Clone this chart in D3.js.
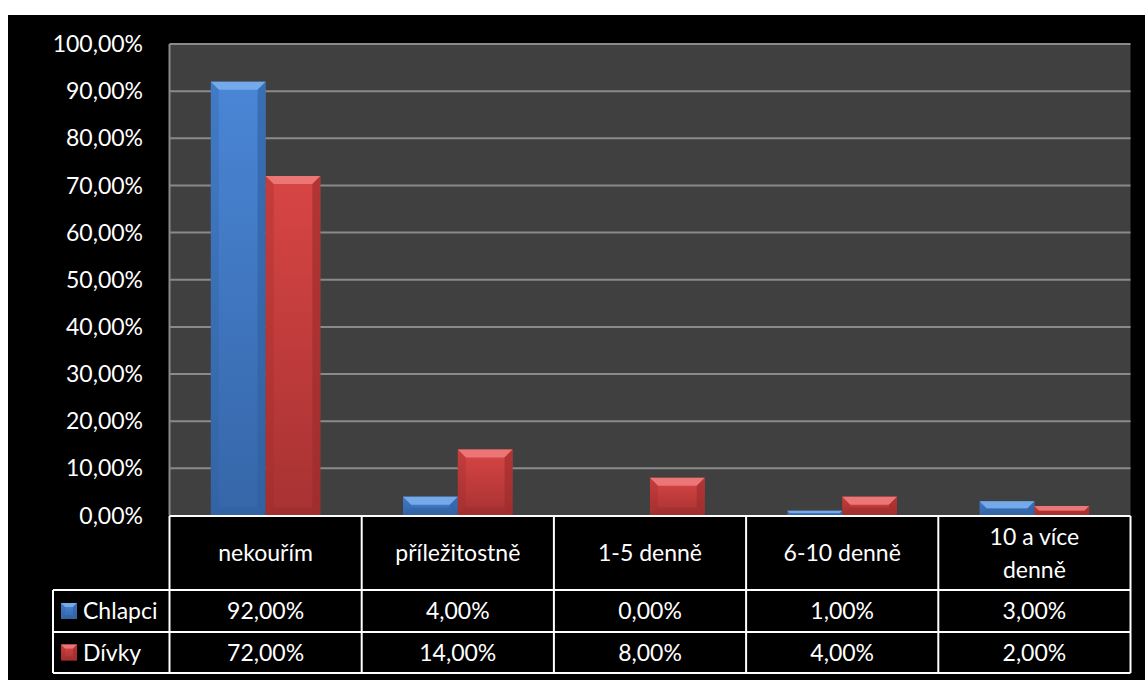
<!DOCTYPE html>
<meta charset="utf-8">
<style>
body { margin: 0; background: #fff; }
text { font-family: Lato, "Open Sans", sans-serif; fill: #fff; }
</style>
<body>
<script src="https://d3js.org/d3.v7.min.js"></script>
<script>

var width = 1145,
    height = 680;

// data
var categories = ["nekouřím", "příležitostně", "1-5 denně", "6-10 denně", "10 a více denně"];
var catLines = [["nekouřím"], ["příležitostně"], ["1-5 denně"], ["6-10 denně"], ["10 a více", "denně"]];
var seriesNames = ["Chlapci", "Dívky"];
var chlapci = [0.92, 0.04, 0.00, 0.01, 0.03];
var divky = [0.72, 0.14, 0.08, 0.04, 0.02];
var yTicks = [0, 0.1, 0.2, 0.3, 0.4, 0.5, 0.6, 0.7, 0.8, 0.9, 1.0];

var series = [chlapci, divky];
var pal = [
  {top: "#4a86d6", bot: "#3566a8", hi: "#74aaea", side: "#2f5f9f"},
  {top: "#d84545", bot: "#a83232", hi: "#ec7676", side: "#9a2c2c"}
];

var cz = d3.formatLocale({decimal: ",", thousands: " ", grouping: [3], currency: ["", " Kč"]});
var pct = cz.format(".2%");

var svg = d3.select("body").append("svg")
    .attr("width", width)
    .attr("height", height);

// black chart area
svg.append("rect")
    .attr("x", 8).attr("y", 15)
    .attr("width", width - 8).attr("height", height - 15)
    .attr("fill", "#000");

var plot = {left: 169.5, right: 1130.5, top: 44, bottom: 515.5};

var x = d3.scaleBand()
    .domain(categories)
    .range([plot.left, plot.right])
    .paddingInner(0.43)
    .paddingOuter(0.215);

var xs = d3.scaleBand()
    .domain(seriesNames)
    .range([0, x.bandwidth()]);

var y = d3.scaleLinear()
    .domain([0, 1])
    .range([plot.bottom, plot.top]);

svg.append("rect")
    .attr("x", plot.left).attr("y", plot.top)
    .attr("width", plot.right - plot.left).attr("height", plot.bottom - plot.top)
    .attr("fill", "#404040");

// gridlines
svg.append("g").selectAll("line")
    .data(yTicks.filter(function(d) { return d > 0; }))
    .enter().append("line")
    .attr("x1", plot.left).attr("x2", plot.right)
    .attr("y1", function(d) { return y(d); })
    .attr("y2", function(d) { return y(d); })
    .attr("stroke", "#8a8a8a")
    .attr("stroke-width", 2);

svg.append("line")
    .attr("x1", plot.left).attr("x2", plot.left)
    .attr("y1", plot.top).attr("y2", plot.bottom)
    .attr("stroke", "#8a8a8a").attr("stroke-width", 2);

// y axis labels
svg.append("g").selectAll("text")
    .data(yTicks)
    .enter().append("text")
    .attr("x", 143)
    .attr("y", function(d) { return y(d); })
    .attr("dy", "0.35em")
    .attr("text-anchor", "end")
    .style("font-size", "23px")
    .text(function(d) { return pct(d); });

// gradients
var defs = svg.append("defs");
pal.forEach(function(p, i) {
  var g = defs.append("linearGradient")
      .attr("id", "grad" + i)
      .attr("x1", 0).attr("y1", 0).attr("x2", 0).attr("y2", 1);
  g.append("stop").attr("offset", "0%").attr("stop-color", p.top);
  g.append("stop").attr("offset", "100%").attr("stop-color", p.bot);
});

function bevelBar(g, bx, by, bw, bh, p, i) {
  if (bh <= 0) return;
  var b = Math.min(8, bh / 2, bw / 4);
  g.append("rect")
      .attr("x", bx).attr("y", by).attr("width", bw).attr("height", bh)
      .attr("fill", "url(#grad" + i + ")");
  // top bevel
  g.append("path")
      .attr("d", "M" + bx + "," + by + "L" + (bx + bw) + "," + by +
                 "L" + (bx + bw - b) + "," + (by + b) + "L" + (bx + b) + "," + (by + b) + "Z")
      .attr("fill", p.hi);
  // left bevel
  g.append("path")
      .attr("d", "M" + bx + "," + by + "L" + (bx + b) + "," + (by + b) +
                 "L" + (bx + b) + "," + (by + bh - b) + "L" + bx + "," + (by + bh) + "Z")
      .attr("fill", p.side).attr("opacity", 0.3);
  // right bevel
  g.append("path")
      .attr("d", "M" + (bx + bw) + "," + by + "L" + (bx + bw - b) + "," + (by + b) +
                 "L" + (bx + bw - b) + "," + (by + bh - b) + "L" + (bx + bw) + "," + (by + bh) + "Z")
      .attr("fill", p.side).attr("opacity", 0.6);
  // bottom bevel
  g.append("path")
      .attr("d", "M" + bx + "," + (by + bh) + "L" + (bx + b) + "," + (by + bh - b) +
                 "L" + (bx + bw - b) + "," + (by + bh - b) + "L" + (bx + bw) + "," + (by + bh) + "Z")
      .attr("fill", p.side).attr("opacity", 0.5);
}

var bars = svg.append("g");
series.forEach(function(vals, i) {
  vals.forEach(function(v, j) {
    var bx = x(categories[j]) + xs(seriesNames[i]);
    bevelBar(bars, bx, y(v), xs.bandwidth(), y(0) - y(v), pal[i], i);
  });
});

// data table
var rowY = [516, 590, 632, 673];
var legLeft = 53;
var tbl = svg.append("g");
var colEdges = categories.map(function(c) { return x(c) - x.step() * x.paddingInner() / 2; });
colEdges.push(plot.right);

function hline(x1, x2, yy) {
  tbl.append("line").attr("x1", x1).attr("x2", x2).attr("y1", yy).attr("y2", yy)
     .attr("stroke", "#fff").attr("stroke-width", 2);
}
function vline(xx, y1, y2) {
  tbl.append("line").attr("x1", xx).attr("x2", xx).attr("y1", y1).attr("y2", y2)
     .attr("stroke", "#fff").attr("stroke-width", 2);
}

hline(plot.left, plot.right, rowY[0]);
hline(legLeft, plot.right, rowY[1]);
hline(legLeft, plot.right, rowY[2]);
hline(legLeft, plot.right, rowY[3]);
vline(legLeft, rowY[1], rowY[3]);
colEdges.forEach(function(e) { vline(e, rowY[0], rowY[3]); });

// header labels
catLines.forEach(function(lines, j) {
  var cx = x(categories[j]) + x.bandwidth() / 2;
  var cy = (rowY[0] + rowY[1]) / 2;
  var lh = 33;
  lines.forEach(function(l, k) {
    tbl.append("text")
        .attr("x", cx)
        .attr("y", cy + (k - (lines.length - 1) / 2) * lh)
        .attr("dy", "0.35em")
        .attr("text-anchor", "middle")
        .style("font-size", "23px")
        .text(l);
  });
});

// value rows + legend keys
series.forEach(function(vals, i) {
  var cy = (rowY[i + 1] + rowY[i + 2]) / 2;
  var ky = cy - 8;
  bevelBar(tbl, 61, ky, 16, 16, pal[i], i);
  tbl.append("text")
      .attr("x", 83).attr("y", cy).attr("dy", "0.35em")
      .style("font-size", "23px")
      .text(seriesNames[i]);
  vals.forEach(function(v, j) {
    tbl.append("text")
        .attr("x", x(categories[j]) + x.bandwidth() / 2)
        .attr("y", cy).attr("dy", "0.35em")
        .attr("text-anchor", "middle")
        .style("font-size", "23px")
        .text(pct(v));
  });
});

</script>
</body>
